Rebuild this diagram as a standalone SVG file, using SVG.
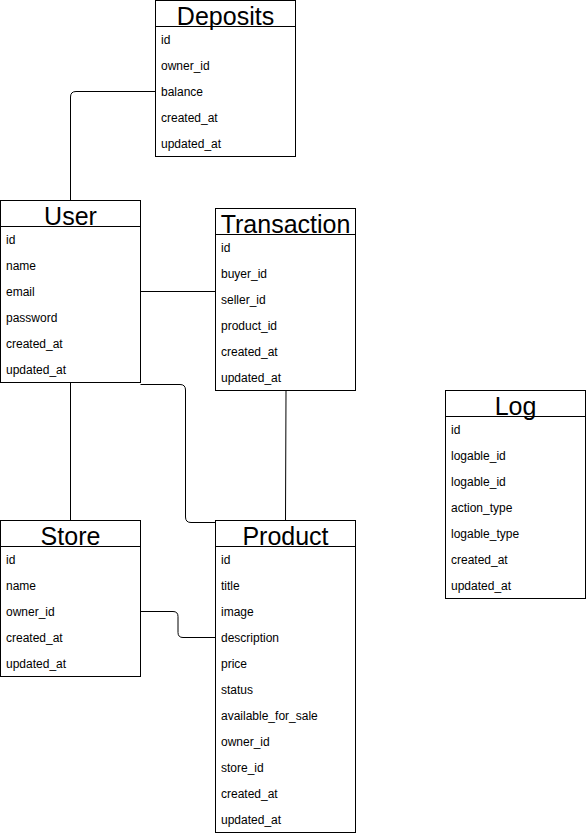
<svg xmlns="http://www.w3.org/2000/svg" width="586" height="836" viewBox="0 0 586 836">
<style>
.box{fill:#fff;stroke:#000;stroke-width:1}
.t{font-family:"Liberation Sans",Arial,sans-serif;font-size:25px;text-anchor:middle;fill:#000}
.r{font-family:"Liberation Sans",Arial,sans-serif;font-size:12px;fill:#000}
.c{fill:none;stroke:#000;stroke-width:1}
</style>
<rect width="586" height="836" fill="#fff"/>
<g id="connectors">
<path class="c" d="M155,91.5 H76 Q70.5,91.5 70.5,97 V200"/>
<path class="c" d="M140.5,291.5 H215.5"/>
<path class="c" d="M70.5,382.5 V520.5"/>
<path class="c" d="M140.5,384.5 H180 Q185.5,384.5 185.5,390 V517 Q185.5,522.5 191,522.5 H215.5"/>
<path class="c" d="M286,390.5 L285.5,520.5"/>
<path class="c" d="M140.5,611.5 H173 Q178,611.5 178,616.5 V632.5 Q178,637.5 183,637.5 H215.5"/>
</g>
<g id="deposits">
<rect class="box" x="155.5" y="0.5" width="140" height="156"/>
<line class="c" x1="155.5" y1="26.5" x2="295.5" y2="26.5"/>
<text class="t" x="225.5" y="25">Deposits</text>
<text class="r" x="161" y="44">id</text>
<text class="r" x="161" y="70">owner_id</text>
<text class="r" x="161" y="96">balance</text>
<text class="r" x="161" y="122">created_at</text>
<text class="r" x="161" y="148">updated_at</text>
</g>
<g id="user">
<rect class="box" x="0.5" y="200.5" width="140" height="182"/>
<line class="c" x1="0.5" y1="226.5" x2="140.5" y2="226.5"/>
<text class="t" x="70.5" y="225">User</text>
<text class="r" x="6" y="244">id</text>
<text class="r" x="6" y="270">name</text>
<text class="r" x="6" y="296">email</text>
<text class="r" x="6" y="322">password</text>
<text class="r" x="6" y="348">created_at</text>
<text class="r" x="6" y="374">updated_at</text>
</g>
<g id="transaction">
<rect class="box" x="215.5" y="208.5" width="140" height="182"/>
<line class="c" x1="215.5" y1="234.5" x2="355.5" y2="234.5"/>
<text class="t" x="285.5" y="233">Transaction</text>
<text class="r" x="221" y="252">id</text>
<text class="r" x="221" y="278">buyer_id</text>
<text class="r" x="221" y="304">seller_id</text>
<text class="r" x="221" y="330">product_id</text>
<text class="r" x="221" y="356">created_at</text>
<text class="r" x="221" y="382">updated_at</text>
</g>
<g id="log">
<rect class="box" x="445.5" y="390.5" width="140" height="208"/>
<line class="c" x1="445.5" y1="416.5" x2="585.5" y2="416.5"/>
<text class="t" x="515.5" y="415">Log</text>
<text class="r" x="451" y="434">id</text>
<text class="r" x="451" y="460">logable_id</text>
<text class="r" x="451" y="486">logable_id</text>
<text class="r" x="451" y="512">action_type</text>
<text class="r" x="451" y="538">logable_type</text>
<text class="r" x="451" y="564">created_at</text>
<text class="r" x="451" y="590">updated_at</text>
</g>
<g id="store">
<rect class="box" x="0.5" y="520.5" width="140" height="156"/>
<line class="c" x1="0.5" y1="546.5" x2="140.5" y2="546.5"/>
<text class="t" x="70.5" y="545">Store</text>
<text class="r" x="6" y="564">id</text>
<text class="r" x="6" y="590">name</text>
<text class="r" x="6" y="616">owner_id</text>
<text class="r" x="6" y="642">created_at</text>
<text class="r" x="6" y="668">updated_at</text>
</g>
<g id="product">
<rect class="box" x="215.5" y="520.5" width="140" height="312"/>
<line class="c" x1="215.5" y1="546.5" x2="355.5" y2="546.5"/>
<text class="t" x="285.5" y="545">Product</text>
<text class="r" x="221" y="564">id</text>
<text class="r" x="221" y="590">title</text>
<text class="r" x="221" y="616">image</text>
<text class="r" x="221" y="642">description</text>
<text class="r" x="221" y="668">price</text>
<text class="r" x="221" y="694">status</text>
<text class="r" x="221" y="720">available_for_sale</text>
<text class="r" x="221" y="746">owner_id</text>
<text class="r" x="221" y="772">store_id</text>
<text class="r" x="221" y="798">created_at</text>
<text class="r" x="221" y="824">updated_at</text>
</g>
</svg>
